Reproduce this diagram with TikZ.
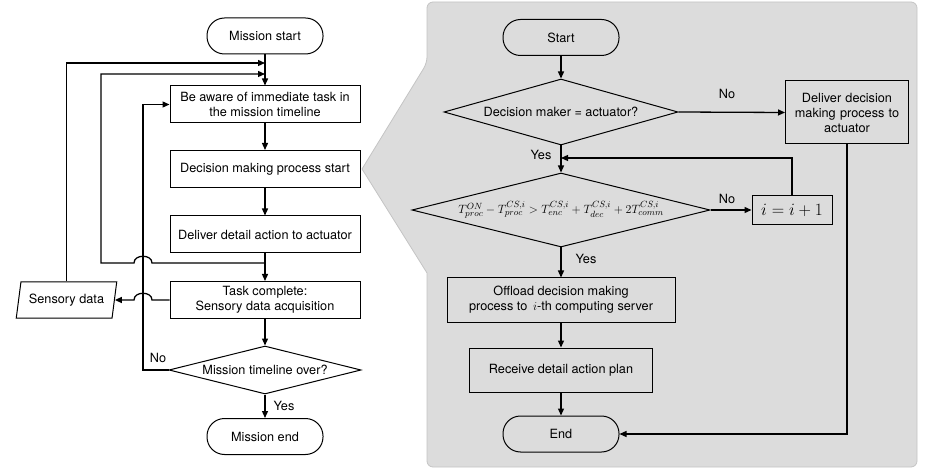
\documentclass[tikz,border=0pt]{standalone}
\usepackage{amsmath}
\usepackage{fontspec}
\setmainfont{TeX Gyre Heros}
\usepackage{tikz}
\usetikzlibrary{arrows.meta,positioning,shapes.geometric}
\definecolor{panelfill}{HTML}{DCDCDC}
\definecolor{panelline}{HTML}{C4C4C4}

\begin{document}
\begin{tikzpicture}[x=1pt,y=-1pt,
  every node/.style={font=\fontsize{12.7}{15}\selectfont},
  box/.style={rectangle,draw=black,line width=1pt,minimum width=190pt,minimum height=37pt,align=center,inner sep=2pt},
  term/.style={rectangle,rounded corners=17.5pt,draw=black,line width=1pt,minimum width=116pt,minimum height=36pt,inner sep=2pt},
  cond/.style={diamond,draw=black,line width=1pt,aspect=4,inner sep=0pt},
  flow/.style={-{Triangle[length=7pt,width=6pt]},line width=1.3pt},
  lbl/.style={inner sep=0pt}]
\useasboundingbox (0,0) rectangle (926,470);
% grey panel pointing at the decision step
\draw[fill=panelfill,draw=panelline,line width=0.8pt] (427,63) -- (362,169) -- (427,273) [rounded corners=6pt] -- (427,467) -- (917,467) -- (917,2) -- (427,2) -- cycle;

% mission flow
\node[term,fill=white] (m0) at (265,36) {Mission start};
\node[box,fill=white] (m1) at (265,104.5) {Be aware of immediate task in\\the mission timeline};
\node[box,fill=white] (m2) at (265,169) {Decision making process start};
\node[box,fill=white] (m3) at (265,234.5) {Deliver detail action to actuator};
\node[box,fill=white] (m4) at (265,300) {Task complete:\\Sensory data acquisition};
\node[trapezium,trapezium left angle=76,trapezium right angle=104,trapezium stretches=true,draw=black,line width=1pt,fill=white,minimum width=101pt,minimum height=36pt,inner sep=2pt] (m5) at (66.5,300) {Sensory data};
\node[cond,fill=white,minimum width=192pt,minimum height=48pt] (m6) at (265,370) {Mission timeline over?};
\node[term,fill=white] (m7) at (265,436.5) {Mission end};
\coordinate (ja) at (265,63);
\coordinate (jb) at (265,74);
\coordinate (jc) at (265,263);
\coordinate (nb) at (143,370);
\draw[flow] (m0.south) -- (m1.north);
\draw[flow] (m1.south) -- (m2.north);
\draw[flow] (m2.south) -- (m3.north);
\draw[flow] (m3.south) -- (m4.north);
\draw[flow] (m4.south) -- (m6.north);
\draw[flow] (m6.south) -- (m7.north);
\draw[flow] (m6.west) -- (nb) |- (m1.west);
\draw[flow] (jc) -- (152,263) .. controls (152,254) and (134,254) .. (134,263) -- (101,263) |- (jb);
\draw[flow] (m4.west) -- (152,300) .. controls (152,291) and (134,291) .. (134,300) -- (m5.east);
\draw[flow] (m5.north) |- (ja);
\node[lbl] (n0) at (158,358) {No};
\node[lbl] (y0) at (284,406) {Yes};

% offloading decision flow
\node[term] (d0) at (561,37.5) {Start};
\node[cond,minimum width=234pt,minimum height=66pt] (d1) at (561,112) {Decision maker = actuator?};
\node[rectangle,draw=black,line width=1pt,minimum width=123pt,minimum height=63pt,text width=116pt,align=center,inner sep=2pt] (d2) at (847,112.5) {Deliver decision\\making process to\\actuator};
\node[cond,minimum width=298pt,minimum height=74pt,font=\fontsize{13}{15}\selectfont] (d3) at (561,210) {$T^{ON}_{proc}-T^{CS,i}_{proc}>T^{CS,i}_{enc}+T^{CS,i}_{dec}+2T^{CS,i}_{comm}$};
\node[rectangle,draw=black,line width=1pt,minimum width=80pt,minimum height=29pt,inner sep=2pt,font=\fontsize{17}{20}\selectfont] (d4) at (792,210) {$i=i+1$};
\node[box,minimum width=228pt,minimum height=44pt] (d5) at (561,300) {Offload decision making\\process to \,$i$-th computing server};
\node[box,minimum width=183pt,minimum height=44pt] (d6) at (561,370) {Receive detail action plan};
\node[term] (d7) at (561,434) {End};
\coordinate (yj) at (561,158);
\draw[flow] (d0.south) -- (d1.north);
\draw[flow] (d1.east) -- (d2.west);
\draw[flow] (d1.south) -- (d3.north);
\draw[flow] (d3.east) -- (d4.west);
\draw[flow] (d4.north) |- (yj);
\draw[flow] (d3.south) -- (d5.north);
\draw[flow] (d5.south) -- (d6.north);
\draw[flow] (d6.south) -- (d7.north);
\draw[flow] (d2.south) |- (d7.east);
\node[lbl] (n1) at (727,94) {No};
\node[lbl] (y1) at (541,155) {Yes};
\node[lbl] (n2) at (727,199) {No};
\node[lbl] (y2) at (586,259) {Yes};
\end{tikzpicture}
\end{document}
